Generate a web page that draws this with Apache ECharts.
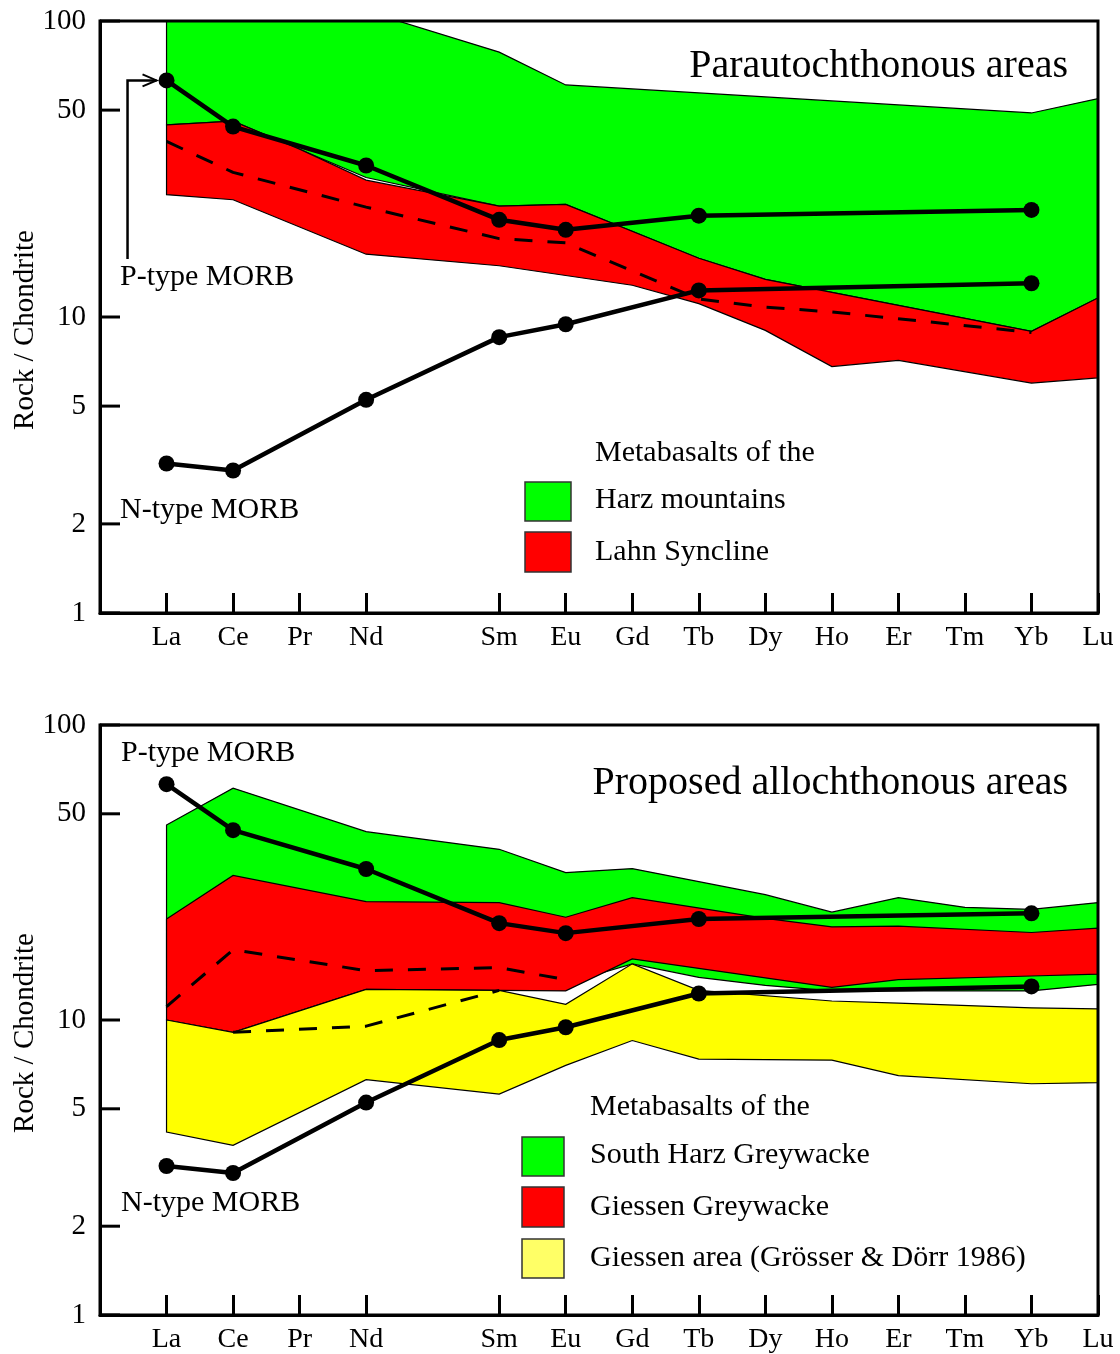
<!DOCTYPE html>
<html>
<head>
<meta charset="utf-8">
<title>REE patterns - metabasalts</title>
<script src="https://cdn.jsdelivr.net/npm/echarts@6/dist/echarts.min.js"></script>
<style>
    html, body { margin: 0; padding: 0; background: #fff; }
    #chart { width: 1120px; height: 1354px; }
</style>
</head>
<body>
<div id="chart"></div>
<script>
// rare earth elements, placed by atomic number (Pm is left out)
var elements = ['La', 'Ce', 'Pr', 'Nd', 'Sm', 'Eu', 'Gd', 'Tb', 'Dy', 'Ho', 'Er', 'Tm', 'Yb', 'Lu'];
var atomicNumber = [57, 58, 59, 60, 62, 63, 64, 65, 66, 67, 68, 69, 70, 71];
var yTicks = [1, 2, 5, 10, 50, 100];

// reference MORB patterns (same in both panels), null = not analysed
var pTypeMorb = [63, 44, null, 32.5, 21.3, 19.7, null, 22, null, null, null, null, 23, null];
var nTypeMorb = [3.2, 3.03, null, 5.25, 8.55, 9.45, null, 12.3, null, null, null, null, 13.0, null];

// upper panel - parautochthonous areas
var harzUpper = [130, null, null, 108, 78.5, 60.8, null, null, null, null, null, null, 48.9, 54.7];
var harzLower = [44.6, 45.9, null, 29.6, 23.7, 24.0, null, 15.8, 13.4, null, null, null, 8.94, 11.6];
var lahnUpper = [44.6, 45.9, 36.9, 29.0, 23.7, 24.0, null, 15.8, 13.4, null, null, null, 8.94, 11.6];
var lahnLower = [25.9, 24.9, null, 16.3, 14.9, null, 12.8, 11.1, 9.01, 6.80, 7.14, null, 5.98, 6.23];
var lahnMean = [39.2, 30.8, null, 23.5, 18.4, 17.8, null, 11.5, 10.8, 10.4, null, null, 8.87, null];

// lower panel - proposed allochthonous areas
var southHarzUpper = [45.8, 61.1, null, 43.5, 37.9, 31.6, 32.6, null, 26.6, 23.2, 26.0, 24.1, 23.7, 25.0];
var southHarzLower = [11, 10, null, 12.9, 12.9, 13.3, 15.5, 13.95, 13.1, 12.55, null, null, 12.55, 13.2];
var giessenGwUpper = [22.0, 30.9, null, 25.2, 25.0, 22.3, 26.0, null, 22.1, 20.7, 20.8, null, 19.8, 20.5];
var giessenGwLower = [10, 9.08, null, 12.7, 12.6, 12.55, 16.1, null, null, 12.9, 13.7, null, 14.1, 14.3];
var giessenAreaUpper = [10, 9.08, null, 12.7, 12.6, 11.3, 15.5, 12.6, null, 11.6, 11.4, null, 11.0, 10.9];
var giessenAreaLower = [4.17, 3.76, null, 6.28, 5.61, 7.02, 8.52, 7.37, null, 7.31, 6.48, null, 6.08, 6.13];
var giessenGwMean = [11.1, 17.3, null, 14.7, 15.05, 13.7, null, null, null, null, null, null, null, null];
var giessenAreaMean = [null, 9.08, null, 9.53, 12.6, null, null, null, null, null, null, null, null, null];

var FONT = 'Liberation Serif';
var chart = echarts.init(document.getElementById('chart'));

function pairs(values) {
    var out = [];
    for (var i = 0; i < values.length; i++) {
        if (values[i] != null) out.push([atomicNumber[i], values[i]]);
    }
    return out;
}

// filled field between an upper and a lower pattern
function band(panel, upper, lower, color) {
    var outline = pairs(upper).concat(pairs(lower).reverse());
    return {
        type: 'custom',
        xAxisIndex: panel,
        yAxisIndex: panel,
        clip: true,
        z: 2,
        data: [[atomicNumber[0], 10]],
        renderItem: function (params, api) {
            return {
                type: 'polygon',
                shape: { points: outline.map(function (p) { return api.coord(p); }) },
                style: { fill: color, stroke: '#000', lineWidth: 1.2 }
            };
        }
    };
}

function morb(panel, values) {
    return {
        type: 'line', xAxisIndex: panel, yAxisIndex: panel, z: 4,
        data: pairs(values),
        symbol: 'circle', symbolSize: 16,
        lineStyle: { color: '#000', width: 4.5 },
        itemStyle: { color: '#000' }
    };
}

function dashed(panel, values) {
    return {
        type: 'line', xAxisIndex: panel, yAxisIndex: panel, z: 3,
        data: pairs(values),
        symbol: 'none',
        lineStyle: { color: '#000', width: 3, type: [18, 15] }
    };
}

function xAxis(idx) {
    return {
        type: 'value', gridIndex: idx, min: 56, max: 71,
        axisLine: { onZero: false, lineStyle: { color: '#000', width: 3 } },
        axisTick: { inside: true, length: 20, customValues: atomicNumber, lineStyle: { color: '#000', width: 3 } },
        axisLabel: {
            customValues: atomicNumber, margin: 11, fontSize: 28, fontFamily: FONT, color: '#000',
            formatter: function (v) { return elements[atomicNumber.indexOf(v)] || ''; }
        },
        splitLine: { show: false }
    };
}

function yAxis(idx) {
    return {
        type: 'log', logBase: 10, gridIndex: idx, min: 1, max: 100,
        axisLine: { onZero: false, lineStyle: { color: '#000', width: 3 } },
        axisTick: { show: false },
        axisLabel: { show: false },
        splitLine: { show: false }
    };
}

var gridStyle = { left: 100, right: 22, show: true, borderColor: '#000', borderWidth: 3, backgroundColor: 'transparent', z: 5 };

chart.setOption({
    animation: false,
    grid: [
        Object.assign({ top: 21, height: 592 }, gridStyle),
        Object.assign({ top: 725, height: 591 }, gridStyle)
    ],
    xAxis: [xAxis(0), xAxis(1)],
    yAxis: [yAxis(0), yAxis(1)],
    series: [
        band(0, harzUpper, harzLower, '#00ff00'),
        band(0, lahnUpper, lahnLower, '#ff0000'),
        dashed(0, lahnMean),
        morb(0, pTypeMorb),
        morb(0, nTypeMorb),

        band(1, southHarzUpper, southHarzLower, '#00ff00'),
        band(1, giessenGwUpper, giessenGwLower, '#ff0000'),
        band(1, giessenAreaUpper, giessenAreaLower, '#ffff00'),
        dashed(1, giessenGwMean),
        dashed(1, giessenAreaMean),
        morb(1, pTypeMorb),
        morb(1, nTypeMorb)
    ]
});

// texts, log ticks and the legend boxes
function text(str, x, y, size, align, extra) {
    var el = {
        type: 'text', x: x, y: y, z: 10,
        style: { text: str, font: size + 'px "' + FONT + '", serif', fill: '#000', align: align || 'left', verticalAlign: 'middle' }
    };
    return Object.assign(el, extra || {});
}
function box(x, y, w, h, color) {
    return { type: 'rect', z: 10, shape: { x: x, y: y, width: w, height: h }, style: { fill: color, stroke: '#333', lineWidth: 1.5 } };
}

var graphics = [];
[0, 1].forEach(function (p) {
    var left = chart.convertToPixel({ xAxisIndex: p }, 56);
    yTicks.forEach(function (v) {
        var y = chart.convertToPixel({ yAxisIndex: p }, v);
        graphics.push({ type: 'line', z: 10, shape: { x1: left, y1: y, x2: left + 20, y2: y }, style: { stroke: '#000', lineWidth: 3 } });
        graphics.push(text(String(v), left - 14, y, 29, 'right'));
    });
});

graphics.push(text('Rock / Chondrite', 25, 330, 29, 'center', { rotation: Math.PI / 2 }));
graphics.push(text('Rock / Chondrite', 25, 1033, 29, 'center', { rotation: Math.PI / 2 }));

graphics.push(text('Parautochthonous areas', 1068, 66, 40, 'right'));
graphics.push(text('Proposed allochthonous areas', 1068, 783, 40, 'right'));

graphics.push(text('P-type MORB', 120, 277, 30));
graphics.push(text('N-type MORB', 120, 510, 30));
graphics.push(text('P-type MORB', 121, 753, 30));
graphics.push(text('N-type MORB', 121, 1203, 30));

// arrow from the label up to the La value of P-type MORB
var pLa = chart.convertToPixel({ xAxisIndex: 0, yAxisIndex: 0 }, [atomicNumber[0], pTypeMorb[0]]);
var tipX = pLa[0] - 10, stemX = pLa[0] - 39;
graphics.push({ type: 'polyline', z: 10, shape: { points: [[stemX, 259], [stemX, pLa[1]], [tipX, pLa[1]]] }, style: { stroke: '#000', lineWidth: 2.5, fill: null } });
graphics.push({ type: 'polyline', z: 10, shape: { points: [[tipX - 14, pLa[1] - 6], [tipX, pLa[1]], [tipX - 14, pLa[1] + 6]] }, style: { stroke: '#000', lineWidth: 2, fill: null } });

// legends
graphics.push(text('Metabasalts of the', 595, 453, 30));
graphics.push(box(525, 482, 46, 39, '#00ff00'));
graphics.push(text('Harz mountains', 595, 500, 30));
graphics.push(box(525, 532, 46, 40, '#ff0000'));
graphics.push(text('Lahn Syncline', 595, 552, 30));

graphics.push(text('Metabasalts of the', 590, 1107, 30));
graphics.push(box(522, 1137, 42, 39, '#00ff00'));
graphics.push(text('South Harz Greywacke', 590, 1155, 30));
graphics.push(box(522, 1187, 42, 40, '#ff0000'));
graphics.push(text('Giessen Greywacke', 590, 1207, 30));
graphics.push(box(522, 1239, 42, 39, '#ffff66'));
graphics.push(text('Giessen area (Grösser & Dörr 1986)', 590, 1258, 30));

chart.setOption({ graphic: graphics });
</script>
</body>
</html>
